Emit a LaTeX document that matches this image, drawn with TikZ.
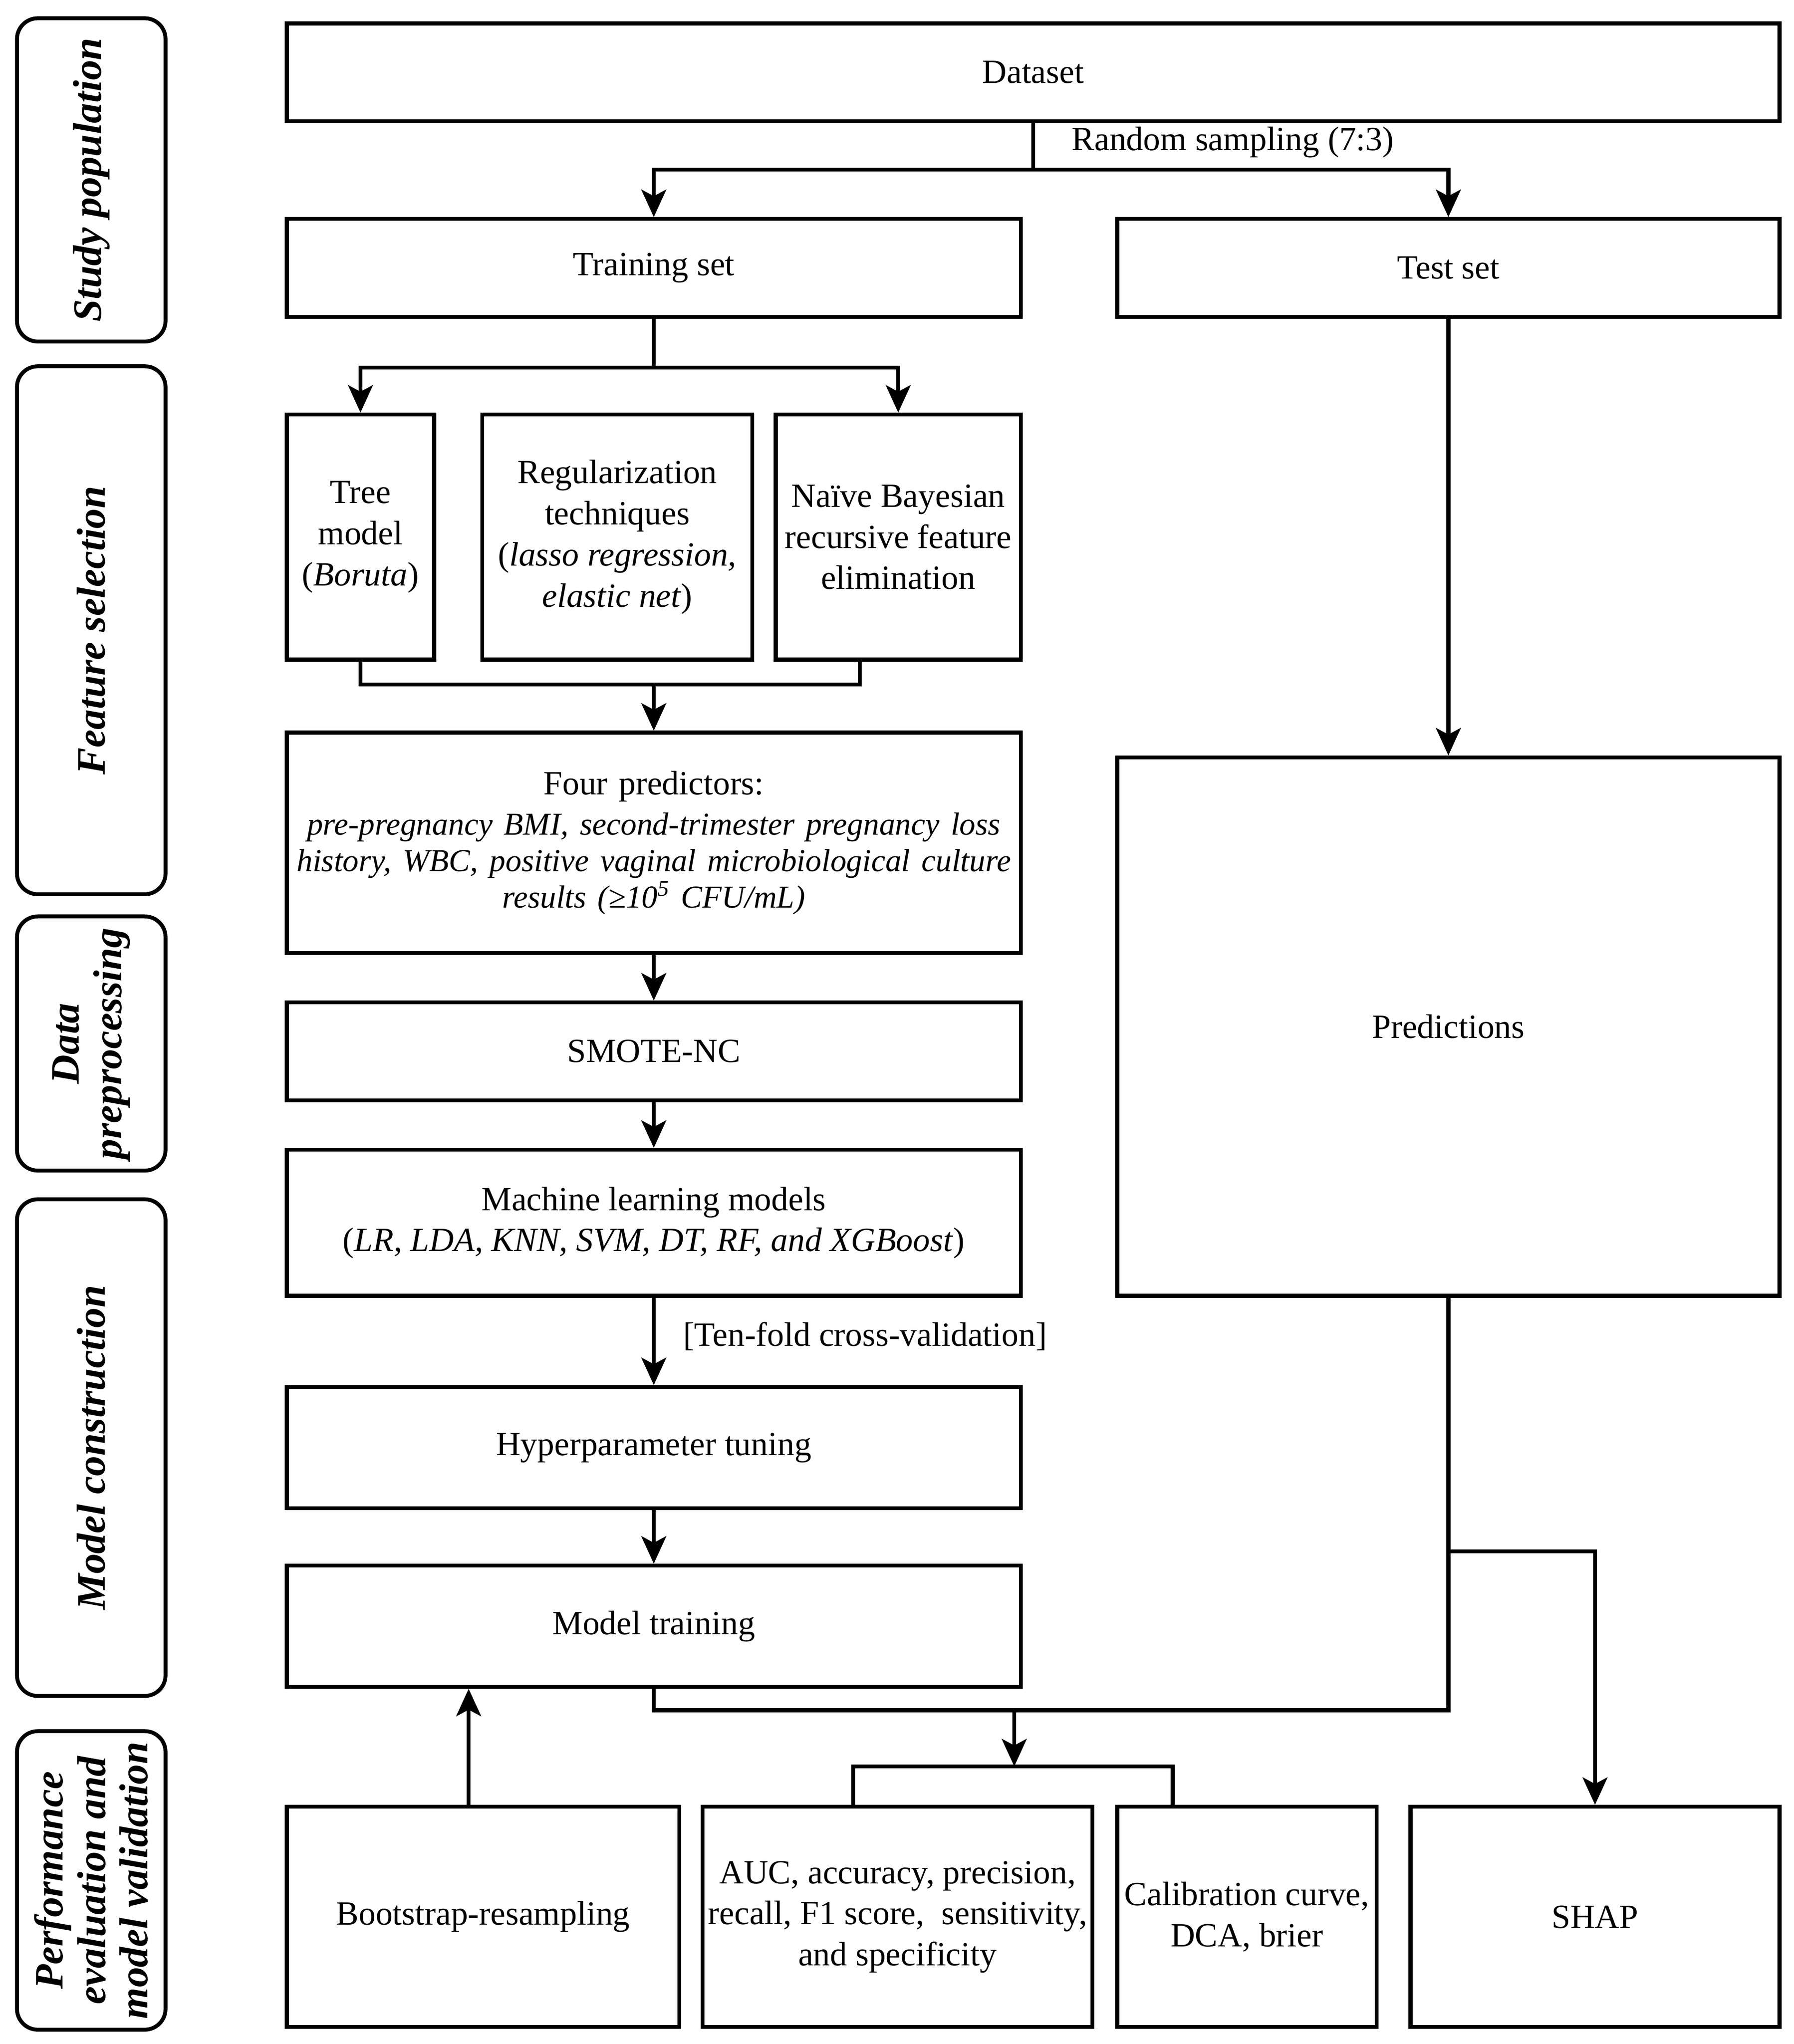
\documentclass[tikz,border=0pt]{standalone}
\usepackage{fontspec}
\setmainfont{Liberation Serif}
\usetikzlibrary{arrows.meta}
\begin{document}
\begin{tikzpicture}[x=1pt,y=-1pt,
  box/.style={draw, line width=3pt, inner sep=0pt, align=center, font=\fontsize{26}{31.5}\selectfont},
  lab/.style={draw, line width=3pt, rounded corners=16pt, inner sep=0pt, align=center, rotate=90, font=\fontsize{31}{32.5}\selectfont\bfseries\itshape},
  conn/.style={line width=3pt},
  arr/.style={conn, -{Stealth[length=21pt,width=19pt,inset=5pt]}},
  txt/.style={inner sep=0pt, font=\fontsize{26}{31.5}\selectfont},
]
\useasboundingbox (0,0) rectangle (1376,1568);

% left stage labels
\node[lab, minimum width=248, minimum height=114] (lsp) at (70,138) {Study population};
\node[lab, minimum width=405, minimum height=114] (lfs) at (70,483.5) {Feature selection};
\node[lab, minimum width=195, minimum height=114] (ldp) at (70,800.5) {Data\\preprocessing};
\node[lab, minimum width=381, minimum height=114] (lmc) at (70,1110.5) {Model construction};
\node[lab, minimum width=229, minimum height=114] (lpe) at (70,1442.5) {Performance\\evaluation and\\model validation};

% boxes
\node[box, minimum width=1145, minimum height=75] (dataset) at (792.5,55.5) {Dataset};
\node[box, minimum width=563, minimum height=75] (train) at (501.5,205.5) {Training set};
\node[box, minimum width=508, minimum height=75] (test) at (1111,205.5) {Test set};
\node[box, minimum width=113, minimum height=188] (tree) at (276.5,412) {Tree\\model\\(\textit{Boruta})};
\node[box, minimum width=207, minimum height=188] (reg) at (473.5,412) {Regularization\\techniques\\(\textit{lasso regression,}\\\textit{elastic net})};
\node[box, minimum width=188, minimum height=188] (naive) at (689,412) {Naïve Bayesian\\recursive feature\\elimination};
\node[box, minimum width=563, minimum height=169, text width=560pt] (four) at (501.5,646.5)
  {\centering Four predictors:\\[3pt]
   {\fontsize{24.5}{28}\selectfont\itshape pre-pregnancy BMI, second-trimester pregnancy loss\\
   history, WBC, positive vaginal microbiological culture\\
   results (≥10\textsuperscript{5} CFU/mL)\par}};
\node[box, minimum width=563, minimum height=75] (smote) at (501.5,806.5) {SMOTE-NC};
\node[box, minimum width=563, minimum height=112] (ml) at (501.5,938) {Machine learning models\\(\textit{LR, LDA, KNN, SVM, DT, RF, and XGBoost})};
\node[box, minimum width=563, minimum height=93] (hyper) at (501.5,1110.5) {Hyperparameter tuning};
\node[box, minimum width=563, minimum height=93] (mtrain) at (501.5,1247.5) {Model training};
\node[box, minimum width=508, minimum height=413] (pred) at (1111,787.5) {Predictions};
\node[box, minimum width=301, minimum height=169] (boot) at (370.5,1470.5) {Bootstrap-resampling};
\node[box, minimum width=299, minimum height=169] (auc) at (688.5,1470.5) {AUC, accuracy, precision,\\recall, F1 score,~ sensitivity,\\and specificity};
\node[box, minimum width=199, minimum height=169] (cal) at (956.5,1470.5) {Calibration curve,\\DCA, brier};
\node[box, minimum width=283, minimum height=169] (shap) at (1223.5,1470.5) {SHAP};

% connectors
\coordinate (r1) at (792.5,130);
\draw[conn] (dataset.south) -- (r1);
\draw[arr] (r1) -| (train.north);
\draw[arr] (r1) -| (test.north);
\node[txt, anchor=west] (rslab) at (822,109) {Random sampling (7:3)};

\coordinate (r2) at (501.5,282);
\draw[conn] (train.south) -- (r2);
\draw[arr] (r2) -| (tree.north);
\draw[arr] (r2) -| (naive.north);

\coordinate (j2) at (501.5,525);
\draw[conn] (tree.south) |- (j2) -| ([xshift=66pt]naive.south west);
\draw[arr] (j2) -- (four.north);

\draw[arr] (four.south) -- (smote.north);
\draw[arr] (smote.south) -- (ml.north);
\draw[arr] (ml.south) -- node[txt, midway, anchor=west, xshift=21pt, yshift=4pt] (tenfold) {[Ten-fold cross-validation]} (hyper.north);
\draw[arr] (hyper.south) -- (mtrain.north);

\draw[arr] (test.south) -- (pred.north);
\coordinate (k1) at (1111,1312);
\draw[conn] (pred.south) -- (k1) -| (mtrain.south);
\coordinate (k2) at (1111,1190);
\draw[arr] (k2) -| (shap.north);
\coordinate (k3) at (778,1312);
\coordinate (k4) at (778,1355);
\draw[arr] (k3) -- (k4);
\draw[conn] ([xshift=117pt]auc.north west) |- (k4) -| ([xshift=44pt]cal.north west);

\draw[arr] ([xshift=141pt]boot.north west) -- ([xshift=141pt]mtrain.south west);
\end{tikzpicture}
\end{document}
